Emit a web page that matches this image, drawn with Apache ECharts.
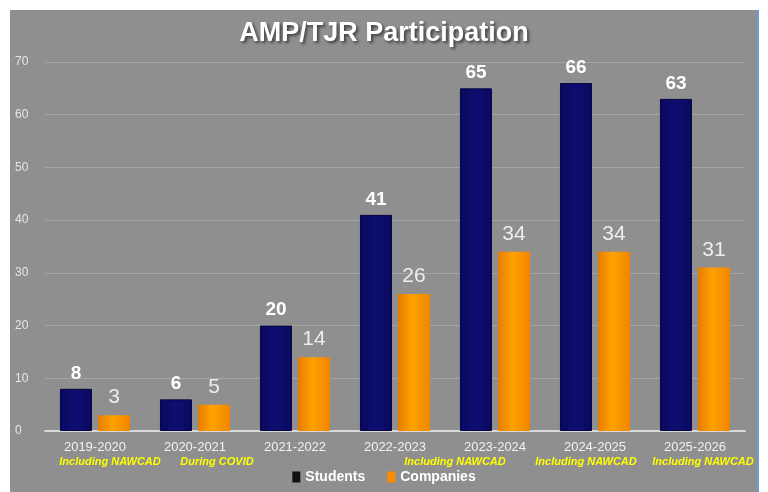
<!DOCTYPE html>
<html>
<head>
<meta charset="utf-8">
<script src="https://cdn.jsdelivr.net/npm/echarts@6/dist/echarts.min.js"></script>
<style>
  html, body { margin: 0; padding: 0; background: #fff; }
  #chart { width: 768px; height: 492px; }
</style>
</head>
<body>
<div id="chart"></div>
<script>
const years = ['2019-2020', '2020-2021', '2021-2022', '2022-2023', '2023-2024', '2024-2025', '2025-2026'];
const notes = ['Including NAWCAD', 'During COVID', '', '', 'Including NAWCAD', 'Including NAWCAD', 'Including NAWCAD'];
// horizontal nudge of each note relative to its year label
const noteShift = [15, 22, 0, 0, -40, -9, 8];
const students = [8, 6, 20, 41, 65, 66, 63];
const companies = [3, 5, 14, 26, 34, 34, 31];

const chart = echarts.init(document.getElementById('chart'));

const orangeFill = new echarts.graphic.LinearGradient(0, 0, 1, 0, [
  { offset: 0, color: '#e87d00' },
  { offset: 0.45, color: '#ffa200' },
  { offset: 1, color: '#f08400' }
]);
const navyFill = new echarts.graphic.LinearGradient(0, 0, 1, 0, [
  { offset: 0, color: '#09095f' },
  { offset: 0.5, color: '#0e0e72' },
  { offset: 1, color: '#09095f' }
]);

const option = {
  backgroundColor: '#ffffff',
  graphic: [
    { type: 'rect', z: -10, shape: { x: 10, y: 10, width: 748, height: 482 }, style: { fill: '#8f8f8f' } },
    { type: 'rect', z: -10, shape: { x: 757, y: 10, width: 2, height: 482 }, style: { fill: '#6a9ad8' } }
  ],
  title: {
    text: 'AMP/TJR Participation',
    left: 'center',
    top: 15,
    textStyle: {
      color: '#ffffff',
      fontFamily: 'Liberation Sans',
      fontWeight: 'bold',
      fontSize: 27,
      textShadowColor: 'rgba(0,0,0,0.55)',
      textShadowBlur: 3,
      textShadowOffsetX: 2,
      textShadowOffsetY: 2
    }
  },
  legend: {
    bottom: 3,
    left: 'center',
    icon: 'rect',
    itemWidth: 8,
    itemHeight: 11,
    itemGap: 22,
    textStyle: { color: '#ffffff', fontFamily: 'Liberation Sans', fontWeight: 'bold', fontSize: 14 },
    data: [
      { name: 'Students', itemStyle: { color: '#111111', borderWidth: 0 } },
      { name: 'Companies', itemStyle: { color: '#ff8c00', borderWidth: 0 } }
    ]
  },
  grid: { left: 45, right: 23, top: 62, bottom: 61 },
  xAxis: {
    type: 'category',
    data: years,
    axisLine: { lineStyle: { color: '#d9d9d9', width: 2 } },
    axisTick: { show: false },
    axisLabel: {
      interval: 0,
      margin: 8,
      formatter: (v, i) => notes[i] ? `{yr|${v}}\n{n${i}|${notes[i]}}` : `{yr|${v}}`,
      rich: Object.assign({
        yr: { color: '#f2f2f2', fontFamily: 'Liberation Sans', fontSize: 13, lineHeight: 16 }
      }, Object.fromEntries(noteShift.map((s, i) => [
        'n' + i,
        {
          color: '#ffff00',
          fontFamily: 'Liberation Sans',
          fontStyle: 'italic',
          fontWeight: 'bold',
          fontSize: 11,
          lineHeight: 14,
          padding: s >= 0 ? [0, 0, 0, 2 * s] : [0, -2 * s, 0, 0]
        }
      ])))
    }
  },
  yAxis: {
    type: 'value',
    min: 0,
    max: 70,
    interval: 10,
    axisLine: { show: false },
    axisTick: { show: false },
    splitLine: { lineStyle: { color: '#a4a4a4', width: 1 } },
    axisLabel: {
      color: '#e6e6e6',
      fontFamily: 'Liberation Sans',
      fontSize: 12,
      align: 'left',
      margin: 30
    }
  },
  series: [
    {
      name: 'Students',
      type: 'bar',
      data: students,
      barWidth: 32,
      barGap: '19%',
      itemStyle: { color: navyFill, borderColor: '#05053f', borderWidth: 1 },
      label: {
        show: true,
        position: 'top',
        distance: 6,
        color: '#ffffff',
        fontFamily: 'Liberation Sans',
        fontWeight: 'bold',
        fontSize: 19
      }
    },
    {
      name: 'Companies',
      type: 'bar',
      data: companies,
      barWidth: 32,
      itemStyle: { color: orangeFill },
      label: {
        show: true,
        position: 'top',
        distance: 7,
        color: '#eeeeee',
        fontFamily: 'Liberation Sans',
        fontSize: 21
      }
    }
  ]
};

chart.setOption(option);
</script>
</body>
</html>
